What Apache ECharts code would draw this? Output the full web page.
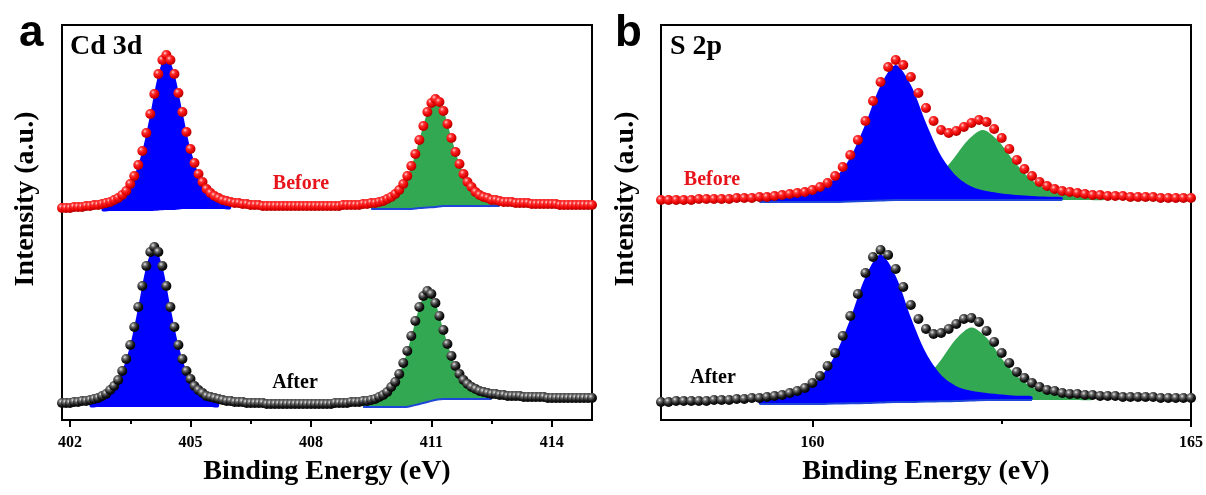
<!DOCTYPE html>
<html><head><meta charset="utf-8">
<script src="https://cdn.jsdelivr.net/npm/echarts@6/dist/echarts.min.js"></script>
<style>html,body{margin:0;padding:0;background:#fff}#c{width:1206px;height:495px}</style>
</head><body><div id="c"></div>
<script>
// ---------------- DATA (intensity in arbitrary units, offset stacks) ----------------
// Cd 3d spectra, sampled every 0.1 eV from 401.8 eV
const cdStart = 401.8, cdStep = 0.1;
const cdBefore = [
 212,212,212,213,213,213,214,214,215,215,
 216,217,218,220,222,225,229,236,244,255,
 269,287,306,326,346,360,365,360,346,327,
 308,288,271,257,246,238,231,227,224,222,
 220,219,218,217,217,216,216,215,215,215,
 214,214,214,214,214,214,214,214,214,214,
 214,214,214,214,214,214,214,214,214,214,
 215,215,215,215,215,216,216,217,217,218,
 219,221,223,226,230,236,244,254,266,280,
 294,308,317,321,318,309,296,282,268,256,
 246,238,233,228,225,223,222,220,220,219,
 218,218,218,217,217,217,217,216,216,216,
 216,216,216,216,215,215,215,215,215,215,
 215,215,215];
const cdAfter = [
 17,17,17,18,18,19,19,20,21,22,
 24,26,30,34,40,49,61,75,93,113,
 134,154,168,173,168,154,134,113,93,75,
 61,49,41,34,30,27,24,23,22,21,
 20,19,19,18,18,18,17,17,17,17,
 17,16,16,16,16,16,16,16,16,16,
 16,16,16,16,16,16,16,16,17,17,
 17,17,18,18,18,19,19,20,21,23,
 25,28,33,38,46,57,69,84,99,113,
 124,129,126,117,104,90,76,64,54,46,
 40,36,33,31,29,28,27,26,26,25,
 25,24,24,24,24,23,23,23,23,23,
 23,22,22,22,22,22,22,22,22,22,
 22,22,22];
// S 2p spectra, sampled every 0.1 eV from 158.0 eV
const sStart = 158.0, sStep = 0.1;
const sBefore = [
 220,220,220,220,220,221,221,221,221,221,
 222,222,222,223,223,224,225,226,227,228,
 230,233,237,244,253,265,280,299,319,338,
 353,360,355,343,327,312,299,290,287,289,
 293,297,300,298,291,282,271,260,251,244,
 238,234,231,229,228,227,226,225,225,224,
 224,224,223,223,223,223,222,222,222,222,
 222];
const sAfter = [
 18,18,19,19,19,19,19,20,20,20,
 21,21,22,22,23,24,25,27,29,32,
 37,44,54,67,84,104,126,147,163,170,
 165,151,133,115,101,91,86,87,91,96,
 101,102,98,89,78,67,57,48,42,37,
 33,30,29,27,26,26,25,25,24,24,
 24,23,23,23,23,23,22,22,22,22,
 22];
// Fitted components (0.2 eV step): amplitude above background, and background
const fitStep = 0.2;
const cdBeforeP1Start = 402.8;
const cdBeforeP1 = [7,9,13,20,35,60,97,136,155,136,97,60,35,20,13,9,7];
const cdBeforeP1Bg = [209,209,209,209,209,209,209,209.5,210,210,211,211,211,211,211,211,211];
const cdBeforeP2Start = 409.5;
const cdBeforeP2 = [4.9,6.4,9,14.1,24.3,42,68,95,108,95,68,42,24.3,14.1,9,6.4,4.9];
const cdBeforeP2Bg = [211,211,211,211,211,211,212,212.5,213,214,214,214,214,214,214,214,214];
const cdAfterP1Start = 402.5;
const cdAfterP1 = [7.2,9.4,13.3,21,36,62,100,140.5,160,140.5,100,62,36,21,13.3,9.4,7.2];
const cdAfterP1Bg = [13,13,13,13,13,13,13,13,13,13,13,13,13,13,13,13,13];
const cdAfterP2Start = 409.3;
const cdAfterP2 = [5,6.5,9.1,14.4,24.8,43,69,96.6,110,96.6,69,43,24.8,14.4,9.1,6.5,5];
const cdAfterP2Bg = [13,13,13,13,13,13,14,16,18,20,21,21,21,21,21,21,21];
const sBeforeP1Start = 159.3;
const sBeforeP1 = [3.9,5,6.5,8.9,13.5,24,44,77,115,135,115,77,44,24,13.5,8.9,6.5,5,3.9,3.2,2.7];
const sBeforeP1Bg = [218,218,218,218,218,218,218.5,219,219.5,220,220,220,220,220,220,220,220,220,220,220,220];
const sBeforeP2Start = 160.65;
const sBeforeP2 = [2.6,3.4,4.6,7,12.4,22.9,40,59.6,70,59.6,40,22.9,12.4,7,4.6,3.4,2.6];
const sBeforeP2Bg = [218.5,219,220,220,220,220,220,220,220,220,220,220,220,220,220,220,220];
const sAfterP1Start = 159.3;
const sAfterP1 = [5.5,7.1,9.8,14.8,26.2,48.4,84.4,126,148,126,84.4,48.4,26.2,14.8,9.8,7.1,5.5,4.3,3.6];
const sAfterP1Bg = [16,16,16,16,16,16.5,16.7,17,17.5,18,18,18.5,18.7,19,19.5,20,20,20,20];
const sAfterP2Start = 160.5;
const sAfterP2 = [2.7,3.5,4.8,7.3,12.9,23.9,41.6,62.2,73,62.2,41.6,23.9,12.9,7.3,4.8,3.5,2.7];
const sAfterP2Bg = [16.7,17,17.5,18,18,18.5,18.7,19,19.5,20,20,20,20,20,20,20,20];
// Axis ticks
const cdMajorTicks = [402,405,408,411,414];
const cdMinorTicks = [403.5,406.5,409.5,412.5];
const sMajorTicks = [160,165];
const sMinorTicks = [162.5];
const cdRange = [401.8, 415];
const sRange = [158, 165];
// -----------------------------------------------------------------------------------

const SERIF = '"Liberation Serif","Times New Roman",serif';
const SANS = '"Liberation Sans",Arial,sans-serif';
const BLUE = '#0000ff', GREEN = '#33a852', BGLINE = '#1e46d8';

function pts(start, step, arr) { return arr.map((v, i) => [+(start + i * step).toFixed(2), v]); }

function fillSeries(xi, yi, start, amp, bg, color, z) {
  const data = amp.map((a, i) => [+(start + i * fitStep).toFixed(2), bg[i], bg[i] + a]);
  return {
    type: 'custom', xAxisIndex: xi, yAxisIndex: yi, z: z, silent: true, data: data,
    encode: { x: 0, y: [1, 2] },
    renderItem: function (params, api) {
      if (params.dataIndexInside !== 0) return null;
      const n = params.dataInsideLength;
      const top = [], bot = [];
      for (let i = 0; i < n; i++) {
        top.push(api.coord([api.value(0, i), api.value(2, i)]));
        bot.push(api.coord([api.value(0, i), api.value(1, i)]));
      }
      return { type: 'polygon', shape: { points: top.concat(bot.reverse()), smooth: 0.3 }, style: { fill: color } };
    }
  };
}
function bgLine(xi, yi, start, bg) {
  return { type: 'line', xAxisIndex: xi, yAxisIndex: yi, z: 3, silent: true, symbol: 'none', smooth: true,
    data: pts(start, fitStep, bg), lineStyle: { color: BGLINE, width: 2 } };
}
const redBall = new echarts.graphic.RadialGradient(0.36, 0.32, 0.7, [
  { offset: 0, color: '#ffd6d6' }, { offset: 0.28, color: '#ff3333' }, { offset: 0.7, color: '#e60000' }, { offset: 1, color: '#a80000' }]);
const blackBall = new echarts.graphic.RadialGradient(0.36, 0.32, 0.7, [
  { offset: 0, color: '#e8e8e8' }, { offset: 0.28, color: '#6a6a6a' }, { offset: 0.65, color: '#1a1a1a' }, { offset: 1, color: '#000' }]);
function dots(xi, yi, start, step, arr, ball) {
  return { type: 'scatter', xAxisIndex: xi, yAxisIndex: yi, z: 5, silent: true, symbol: 'circle', symbolSize: 10,
    data: pts(start, step, arr), itemStyle: { color: ball, borderWidth: 0, opacity: 1 } };
}
function majorX(grid, range, ticks) {
  return { gridIndex: grid, type: 'value', min: range[0], max: range[1], position: 'bottom',
    axisLine: { onZero: false, lineStyle: { color: '#000', width: 2 } },
    axisTick: { show: true, customValues: ticks, length: 7, lineStyle: { color: '#000', width: 2 } },
    axisLabel: { show: true, customValues: ticks, margin: 15, color: '#000', fontFamily: SERIF, fontWeight: 'bold', fontSize: 16 },
    splitLine: { show: false } };
}
function minorX(grid, range, ticks) {
  return { gridIndex: grid, type: 'value', min: range[0], max: range[1], position: 'bottom',
    axisLine: { show: false, onZero: false },
    axisTick: { show: true, customValues: ticks, length: 4, lineStyle: { color: '#000', width: 2 } },
    axisLabel: { show: false }, splitLine: { show: false } };
}
function yAx(grid) {
  return { gridIndex: grid, type: 'value', min: 0, max: 395,
    axisLine: { show: true, onZero: false, lineStyle: { color: '#000', width: 2 } },
    axisTick: { show: false }, axisLabel: { show: false }, splitLine: { show: false } };
}
function txt(text, x, y, font, fill, rot) {
  return { type: 'text', x: x, y: y, rotation: rot || 0, silent: true, z: 10,
    style: { text: text, font: font, fill: fill, align: 'center', verticalAlign: 'middle', textAlign: 'center', textVerticalAlign: 'middle' } };
}
function txtL(text, x, y, font, fill) {
  return { type: 'text', x: x, y: y, silent: true, z: 10,
    style: { text: text, font: font, fill: fill, align: 'left', verticalAlign: 'middle', textAlign: 'left', textVerticalAlign: 'middle' } };
}

const chart = echarts.init(document.getElementById('c'), null, { renderer: 'canvas' });
chart.setOption({
  animation: false,
  backgroundColor: '#fff',
  grid: [
    { left: 62, top: 25, width: 530, height: 395, show: true, borderColor: '#000', borderWidth: 2, backgroundColor: 'transparent' },
    { left: 661, top: 25, width: 530, height: 395, show: true, borderColor: '#000', borderWidth: 2, backgroundColor: 'transparent' }
  ],
  xAxis: [majorX(0, cdRange, cdMajorTicks), minorX(0, cdRange, cdMinorTicks), majorX(1, sRange, sMajorTicks), minorX(1, sRange, sMinorTicks)],
  yAxis: [yAx(0), yAx(1)],
  series: [
    fillSeries(0, 0, cdBeforeP2Start, cdBeforeP2, cdBeforeP2Bg, GREEN, 1),
    fillSeries(0, 0, cdBeforeP1Start, cdBeforeP1, cdBeforeP1Bg, BLUE, 2),
    fillSeries(0, 0, cdAfterP2Start, cdAfterP2, cdAfterP2Bg, GREEN, 1),
    fillSeries(0, 0, cdAfterP1Start, cdAfterP1, cdAfterP1Bg, BLUE, 2),
    bgLine(0, 0, cdBeforeP2Start, cdBeforeP2Bg),
    bgLine(0, 0, cdAfterP2Start, cdAfterP2Bg),
    dots(0, 0, cdStart, cdStep, cdBefore, redBall),
    dots(0, 0, cdStart, cdStep, cdAfter, blackBall),
    fillSeries(2, 1, sBeforeP2Start, sBeforeP2, sBeforeP2Bg, GREEN, 1),
    fillSeries(2, 1, sBeforeP1Start, sBeforeP1, sBeforeP1Bg, BLUE, 2),
    fillSeries(2, 1, sAfterP2Start, sAfterP2, sAfterP2Bg, GREEN, 1),
    fillSeries(2, 1, sAfterP1Start, sAfterP1, sAfterP1Bg, BLUE, 2),
    bgLine(2, 1, sBeforeP1Start, sBeforeP1Bg),
    bgLine(2, 1, sAfterP1Start, sAfterP1Bg),
    dots(2, 1, sStart, sStep, sBefore, redBall),
    dots(2, 1, sStart, sStep, sAfter, blackBall)
  ],
  graphic: [
    txtL('a', 19, 34, 'bold 44px ' + SANS, '#000'),
    txtL('b', 615, 34, 'bold 44px ' + SANS, '#000'),
    txtL('Cd 3d', 70, 47, 'bold 28px ' + SERIF, '#000'),
    txtL('S 2p', 670, 47, 'bold 28px ' + SERIF, '#000'),
    txt('Before', 301, 184, 'bold 20px ' + SERIF, '#e8141c'),
    txt('After', 295, 383, 'bold 20px ' + SERIF, '#000'),
    txt('Before', 712, 180, 'bold 20px ' + SERIF, '#e8141c'),
    txt('After', 713, 378, 'bold 20px ' + SERIF, '#000'),
    txt('Intensity (a.u.)', 26, 199, 'bold 28px ' + SERIF, '#000', Math.PI / 2),
    txt('Intensity (a.u.)', 626, 199, 'bold 28px ' + SERIF, '#000', Math.PI / 2),
    txt('Binding Energy (eV)', 327, 472, 'bold 28px ' + SERIF, '#000'),
    txt('Binding Energy (eV)', 926, 472, 'bold 28px ' + SERIF, '#000')
  ]
});
</script>
</body></html>
